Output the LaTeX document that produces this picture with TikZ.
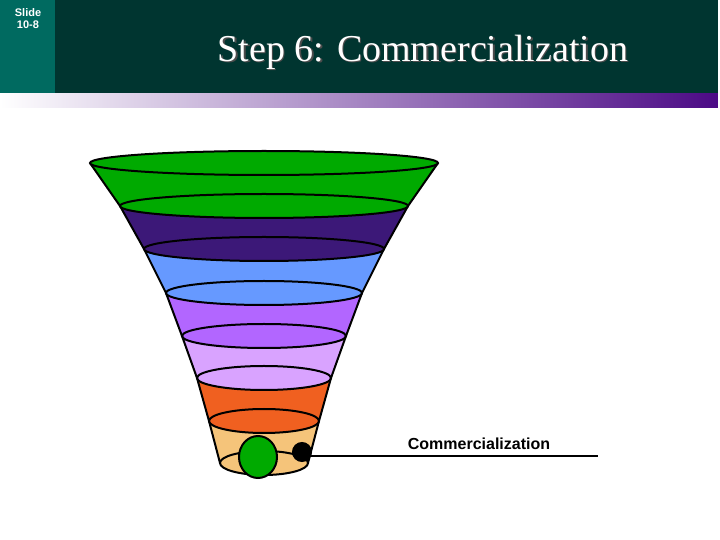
\documentclass[tikz,border=0pt]{standalone}
\usepackage{fontspec}
\setmainfont{Liberation Serif}
\newfontfamily\arial{Liberation Sans}
\definecolor{teal1}{HTML}{006A60}
\definecolor{dark1}{HTML}{003530}
\definecolor{purp}{HTML}{4B0A85}
\definecolor{c1}{HTML}{00AA00}
\definecolor{c2}{HTML}{3C1878}
\definecolor{c3}{HTML}{6699FF}
\definecolor{c4}{HTML}{B266FF}
\definecolor{c5}{HTML}{D9A3FF}
\definecolor{c6}{HTML}{F06020}
\definecolor{c7}{HTML}{F5C47A}
\begin{document}
\begin{tikzpicture}[x=0.5pt,y=-0.5pt,line width=1pt,
  band/.style={draw=black}]
\useasboundingbox (0,0) rectangle (720,540);
\fill[white] (0,0) rectangle (720,540);
% header
\fill[dark1] (0,0) rectangle (718,94);
\fill[teal1] (0,0) rectangle (55,94);
\shade[left color=white,right color=purp] (0,94) rectangle (718,108);
\node[text=white,font=\arial\bfseries\fontsize{5.5}{6}\selectfont,align=center] (sl) at (28,19) {Slide\\10-8};
\node[text=black!70,font=\fontsize{19}{22}\selectfont] (tsh) at (424.5,53.5) {Step 6: Commercialization};
\node[text=white,font=\fontsize{19}{22}\selectfont] (tt) at (423,52) {Step 6: Commercialization};
% funnel: band i: top y, top rx, bottom y, bottom rx
\def\cx{264}
\foreach \ty/\trx/\by/\brx/\col in {421/55/463/44/c7, 378/67/421/55/c6, 336/82/378/67/c5, 293/98/336/82/c4, 249/120/293/98/c3, 206/144/249/120/c2, 163/174/206/144/c1}{
  \fill[\col] (\cx-\trx,\ty) -- (\cx-\brx,\by) -- (\cx+\brx,\by) -- (\cx+\trx,\ty) -- cycle;
  \draw (\cx-\trx,\ty) -- (\cx-\brx,\by) (\cx+\brx,\by) -- (\cx+\trx,\ty);
  \filldraw[fill=\col] (\cx,\by) ellipse [x radius=\brx, y radius=12];
}
\filldraw[fill=c1] (\cx,163) ellipse [x radius=174, y radius=12];
% marker
\filldraw[fill=c1] (258,457) ellipse [x radius=19, y radius=21];
\filldraw[fill=black] (302,452) circle (9) coordinate (dot);
\coordinate (lend) at (598,456);
\draw (302,456) -- (lend);
\node[font=\arial\bfseries\fontsize{8}{9}\selectfont] (lab) at (479,444) {Commercialization};
\end{tikzpicture}
\end{document}
